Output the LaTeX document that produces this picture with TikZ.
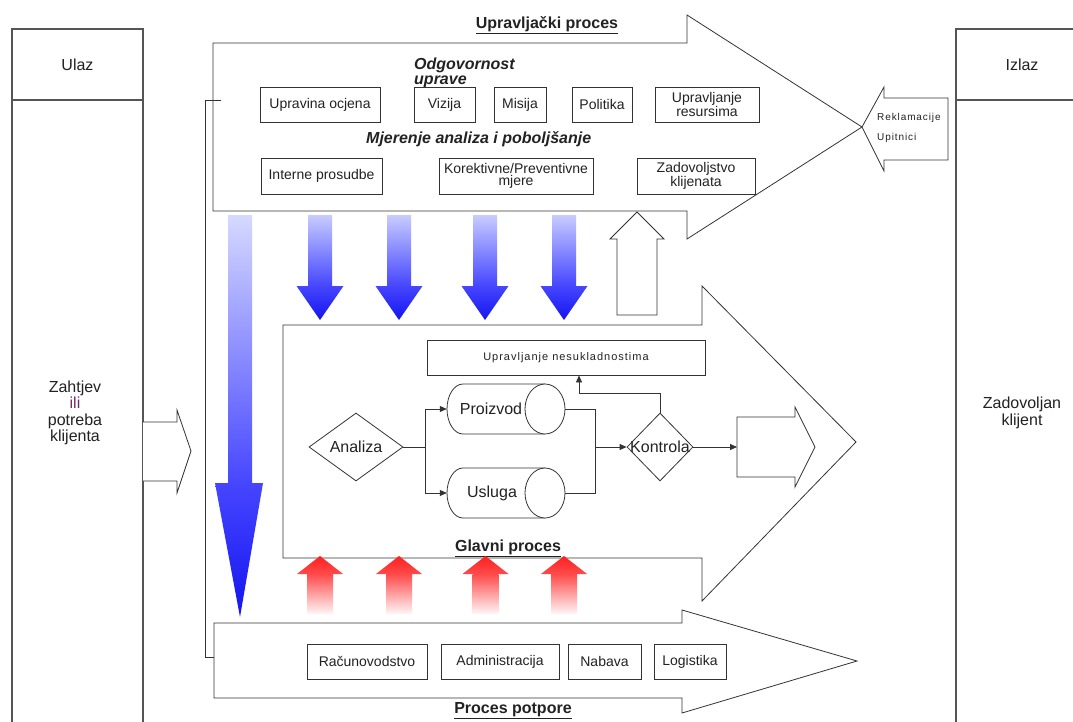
\documentclass[tikz,border=0pt]{standalone}
\usepackage{fontspec}
\setmainfont{Liberation Sans}
\newfontfamily\spacedfont{Liberation Sans}[LetterSpace=9]
\usetikzlibrary{shapes.geometric,arrows.meta}
\definecolor{ln}{HTML}{333333}
\definecolor{colln}{HTML}{555555}
\definecolor{txt}{HTML}{222222}
\definecolor{ilic}{HTML}{6E2C6E}
\definecolor{bluelight}{HTML}{C8CCFF}
\definecolor{bluevlight}{HTML}{D6D9FF}
\definecolor{bluemid}{HTML}{4646FF}
\definecolor{bluedeep}{HTML}{1414F0}
\definecolor{redtop}{HTML}{FF2020}
\definecolor{redmid}{HTML}{FF4A4A}
\definecolor{redbot}{HTML}{FFF2F2}
\begin{document}
\begin{tikzpicture}[x=1pt,y=-1pt,line join=miter,
  every node/.style={text=txt,inner sep=0pt},
  outline/.style={draw=ln,line width=0.8pt,fill=white},
  colline/.style={draw=colln,line width=1.2pt},
  lbox/.style={draw=ln,line width=0.8pt,fill=white,minimum height=35pt,align=center,font=\fontsize{14}{12.5}\selectfont},
  big/.style={font=\fontsize{16}{16.3}\selectfont},
  ttl/.style={font=\fontsize{16}{16}\selectfont\bfseries},
  bititle/.style={font=\fontsize{16}{15}\selectfont\bfseries\itshape,align=left},
  dia/.style={diamond,draw=ln,line width=0.8pt,fill=white,inner sep=0pt},
  conn/.style={draw=ln,line width=0.8pt},
  arr/.style={conn,-{Triangle[length=7pt,width=6pt]}},
  tiny/.style={font=\spacedfont\fontsize{10}{20}\selectfont,align=left},
]
\useasboundingbox (0,0) rectangle (1073,722);
\fill[white] (0,0) rectangle (1073,722);

% ---------- Upravljacki proces (top arrow) ----------
\path[outline] (213,43) -- (687,43) -- (687,15) -- (862,127) -- (687,239) -- (687,211) -- (213,211) -- cycle;
\node[ttl] (tup) at (547,25) {\underline{Upravljački proces}};
\node[bititle,anchor=west] (odg) at (414,72.5) {Odgovornost\\uprave};
\node[lbox,minimum width=120pt] (uoc) at (320,104.5) {Upravina ocjena};
\node[lbox,minimum width=61pt] (viz) at (444.5,104.5) {Vizija};
\node[lbox,minimum width=52pt] (mis) at (520,104.5) {Misija};
\node[lbox,minimum width=60pt] (pol) at (602,104.5) {Politika};
\node[lbox,minimum width=104pt] (ure) at (707,104.5) {Upravljanje\\resursima};
\node[bititle,anchor=west] (mje) at (366,139) {Mjerenje analiza i poboljšanje};
\node[lbox,minimum width=121pt,minimum height=36pt] (ipr) at (321.5,176) {Interne prosudbe};
\node[lbox,minimum width=154pt,minimum height=36pt] (kpm) at (516,176) {Korektivne/Preventivne\\mjere};
\node[lbox,minimum width=118pt,minimum height=36pt] (zkl) at (696,176) {Zadovoljstvo\\klijenata};

% ---------- Reklamacije arrow ----------
\path[outline] (862,127) -- (884,87) -- (884,98) -- (948,98) -- (948,160) -- (884,160) -- (884,171) -- cycle;
\node[tiny,anchor=west] (rek) at (877,128) {Reklamacije\\Upitnici};

% ---------- bracket ----------
\coordinate (bt) at (221,100);
\coordinate (bb) at (221,657);
\draw[conn] (bt) -- ++(-16,0) |- (bb);

% ---------- long blue arrow ----------
\shade[top color=bluevlight,bottom color=bluemid] (228,215) rectangle (252,483);
\shade[top color=bluemid,bottom color=bluedeep] (215,483) -- (263,483) -- (240,617) -- cycle;

% ---------- blue arrows ----------
\foreach \c in {320,399,485,564}{
  \shade[top color=bluelight,bottom color=bluemid] (\c-12,215) rectangle (\c+12,286);
  \shade[top color=bluemid,bottom color=bluedeep] (\c-23.5,286) -- (\c+23.5,286) -- (\c,320) -- cycle;
}

% ---------- white up arrow ----------
\path[outline] (617,315) -- (617,239) -- (610,239) -- (637,212) -- (664,239) -- (657,239) -- (657,315) -- cycle;

% ---------- Glavni proces (main arrow) ----------
\path[outline] (283,325) -- (702,325) -- (702,286) -- (856,442) -- (702,601) -- (702,558) -- (283,558) -- cycle;
\node[ttl] (tgp) at (508,548) {\underline{Glavni proces}};
\node[lbox,minimum width=278pt,font=\spacedfont\fontsize{11}{12}\selectfont] (nes) at (566,357.5) {Upravljanje nesukladnostima};
\node[dia,minimum width=94pt,minimum height=68pt,label={[big]center:Analiza}] (ana) at (356,447) {};

\path[conn,fill=white] (545,384) -- (463,384) arc[start angle=270,end angle=90,x radius=16,y radius=25] -- (545,434);
\path[conn,fill=white] (545,409) ellipse[x radius=20,y radius=25];
\node[minimum width=118pt,minimum height=50pt,label={[big,xshift=-15pt]center:Proizvod}] (proiz) at (506,409) {};
\path[conn,fill=white] (545,468) -- (463,468) arc[start angle=270,end angle=90,x radius=16,y radius=25] -- (545,518);
\path[conn,fill=white] (545,493) ellipse[x radius=20,y radius=25];
\node[minimum width=118pt,minimum height=50pt,label={[big,xshift=-14pt]center:Usluga}] (usl) at (506,493) {};

\node[dia,minimum width=66pt,minimum height=68pt] (kon) at (660,447) {};
\node[big] (konl) at (660,447) {Kontrola};

\path[outline] (737,417) -- (795,417) -- (795,407) -- (815,447) -- (795,487) -- (795,477) -- (737,477) -- cycle;
\coordinate (outin) at (737,447);
\coordinate (split) at (425,447);
\coordinate (join) at (595,447);
\draw[conn] (ana.east) -- (split);
\draw[arr] (split) |- (proiz.west);
\draw[arr] (split) |- (usl.west);
\draw[conn] (proiz.east) -| (join);
\draw[conn] (usl.east) -| (join);
\draw[arr] (join) -- (kon.west);
\draw[arr] (kon.north) -- ++(0,-19) -| ([xshift=13pt]nes.south);
\draw[arr] (kon.east) -- (outin);

% ---------- red arrows ----------
\foreach \c in {320,399,485.5,564}{
  \shade[top color=redmid,bottom color=redbot] (\c-13,574) rectangle (\c+13,613);
  \shade[top color=redtop,bottom color=redmid] (\c-23,574) -- (\c,556) -- (\c+23,574) -- cycle;
}

% ---------- Proces potpore ----------
\path[outline] (214,623) -- (682,623) -- (682,610) -- (857,661) -- (682,713) -- (682,698) -- (214,698) -- cycle;
\node[lbox,minimum width=120pt] (rac) at (367,661.5) {Računovodstvo};
\node[lbox,minimum width=118pt] (adm) at (500,661.5) {Administracija};
\node[lbox,minimum width=73pt] (nab) at (604.5,661.5) {Nabava};
\node[lbox,minimum width=72pt] (log) at (690,661.5) {Logistika};
\node[ttl] (tpp) at (513,711) {\underline{Proces potpore}};

% ---------- columns ----------
\draw[colline] (12,29) rectangle (143,740);
\draw[colline] (12,100) -- (143,100);
\node[big] (ulaz) at (77.5,64.5) {Ulaz};
\node[big,align=center] (zah) at (75,413) {Zahtjev\\\textcolor{ilic}{ili}\\potreba\\klijenta};
\draw[colline] (956,29) rectangle (1090,740);
\draw[colline] (956,100) -- (1090,100);
\node[big] (izl) at (1022,64.5) {Izlaz};
\node[big,align=center] (zad) at (1022,413) {Zadovoljan\\klijent};

% ---------- input arrow ----------
\path[outline] (143,422) -- (177,422) -- (177,410) -- (191,451) -- (177,493) -- (177,481) -- (143,481);
\end{tikzpicture}
\end{document}
